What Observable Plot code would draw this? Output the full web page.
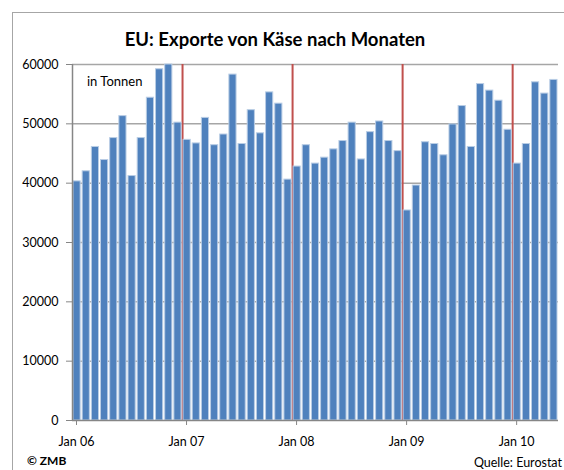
<!DOCTYPE html>
<html>
<head>
<meta charset="utf-8">
<script src="https://cdn.jsdelivr.net/npm/d3@7"></script>
<script src="https://cdn.jsdelivr.net/npm/@observablehq/plot@0.6"></script>
<style>
  html, body { margin: 0; padding: 0; background: #fff; overflow: hidden; }
  #wrap { position: relative; width: 564px; height: 470px; overflow: hidden; font-family: Lato, "Open Sans", sans-serif; }
  #frame { position: absolute; left: 12px; top: 12px; width: 700px; height: 600px; border: 1.5px solid #a6a6a6; box-sizing: border-box; }
  #chart { position: absolute; left: 0; top: 0; }
  .lbl { position: absolute; white-space: nowrap; color: #000; line-height: 1; }
</style>
</head>
<body>
<div id="wrap">
  <div id="frame"></div>
  <div id="chart"></div>
  <div class="lbl" id="title" style="left:0;width:550px;text-align:center;top:30px;font-size:18.5px;font-weight:bold;"></div>
  <div class="lbl" id="unit" style="left:87px;top:75px;font-size:13px;"></div>
  <div class="lbl" id="copy" style="left:27px;top:455px;font-size:12px;font-weight:bold;"></div>
  <div class="lbl" id="source" style="right:2px;top:457px;font-size:12.5px;"></div>
</div>
<script>
const titleText = "EU: Exporte von Käse nach Monaten";
const unitText = "in Tonnen";
const copyText = "© ZMB";
const sourceText = "Quelle: Eurostat";

const exports2006 = [40300, 42000, 46100, 43900, 47600, 51300, 41200, 47600, 54400, 59200, 60000, 50200];
const exports2007 = [47300, 46700, 51000, 46400, 48200, 58300, 46600, 52300, 48400, 55300, 53400, 40600];
const exports2008 = [42800, 46400, 43300, 44300, 45700, 47100, 50200, 44000, 48600, 50400, 47100, 45400];
const exports2009 = [35400, 39600, 46900, 46600, 44700, 49900, 53000, 46100, 56700, 55600, 53900, 49000];
const exports2010 = [43300, 46600, 57000, 55100, 57400];

const xTickLabels = ["Jan 06", "Jan 07", "Jan 08", "Jan 09", "Jan 10"];
const yTicks = [0, 10000, 20000, 30000, 40000, 50000, 60000];

const values = [...exports2006, ...exports2007, ...exports2008, ...exports2009, ...exports2010];
const data = values.map((v, i) => ({i, v}));
const yearStarts = xTickLabels.map((_, k) => k * 12);
const yearBreaks = yearStarts.slice(1);

const plot = Plot.plot({
  width: 564,
  height: 470,
  marginLeft: 72,
  marginRight: 6,
  marginTop: 64,
  marginBottom: 50,
  style: {fontFamily: "Lato, 'Open Sans', sans-serif", fontSize: "12px", background: "transparent", color: "#000"},
  x: {type: "linear", domain: [0, values.length]},
  y: {domain: [0, 60000]},
  marks: [
    Plot.ruleY(yTicks.slice(1), {stroke: "#a6a6a6", strokeWidth: 1.5}),
    Plot.ruleX(yearBreaks, {y1: 0, y2: 60000, stroke: "#c0504d", strokeWidth: 2}),
    Plot.rectY(data, {x1: "i", x2: d => d.i + 1, y: "v", fill: "#4f81bd", stroke: "#b9cde5", strokeWidth: 1, insetLeft: 1, insetRight: 1}),
    Plot.ruleX([0], {stroke: "#868686", strokeWidth: 1.5}),
    Plot.ruleY([0], {stroke: "#868686", strokeWidth: 1.5}),
    Plot.axisY({ticks: yTicks, tickFormat: d3.format("d"), tickSize: 6, tickPadding: 8, stroke: "#868686", label: null, fontSize: 12.5}),
    Plot.axisX({ticks: yearStarts, tickFormat: d => xTickLabels[d / 12], tickSize: 5, tickPadding: 12, dx: 4, stroke: "#868686", label: null, fontSize: 12.5})
  ]
});
document.getElementById("chart").appendChild(plot);
document.getElementById("title").textContent = titleText;
document.getElementById("unit").textContent = unitText;
document.getElementById("copy").textContent = copyText;
document.getElementById("source").textContent = sourceText;
</script>
</body>
</html>
